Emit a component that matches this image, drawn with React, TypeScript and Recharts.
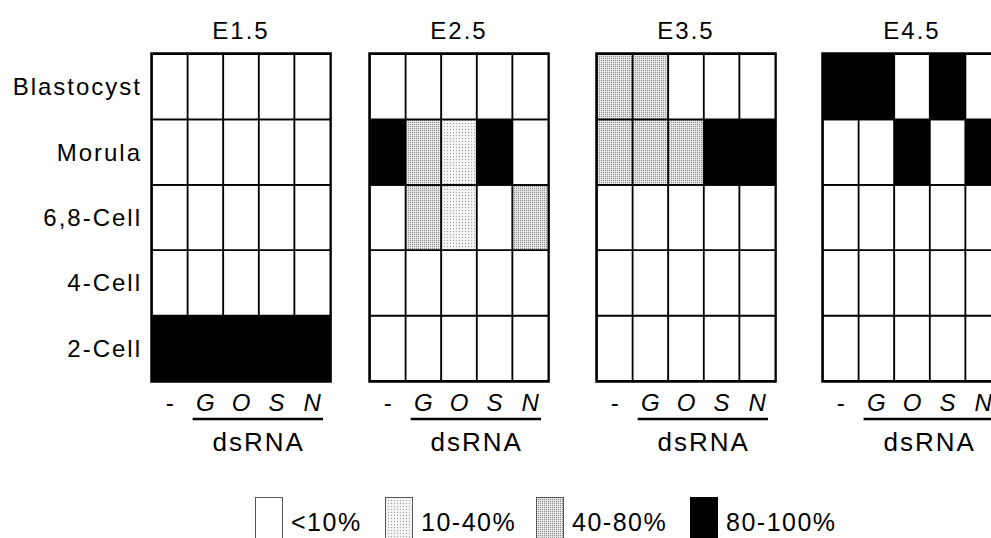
import React from "react";
import { BarChart, Bar, XAxis, YAxis, Cell, ReferenceArea } from "recharts";

// embryo stage reached, per timepoint and dsRNA treatment
// level: 0 = <10%, 1 = 10-40%, 2 = 40-80%, 3 = 80-100%
const timepoints = ["E1.5", "E2.5", "E3.5", "E4.5"];
const treatments = ["-", "G", "O", "S", "N"];
const stages = ["2-Cell", "4-Cell", "6,8-Cell", "Morula", "Blastocyst"];

const e15 = {
  "2-Cell": [3, 3, 3, 3, 3],
  "4-Cell": [0, 0, 0, 0, 0],
  "6,8-Cell": [0, 0, 0, 0, 0],
  Morula: [0, 0, 0, 0, 0],
  Blastocyst: [0, 0, 0, 0, 0],
};
const e25 = {
  "2-Cell": [0, 0, 0, 0, 0],
  "4-Cell": [0, 0, 0, 0, 0],
  "6,8-Cell": [0, 2, 1, 0, 2],
  Morula: [3, 2, 1, 3, 0],
  Blastocyst: [0, 0, 0, 0, 0],
};
const e35 = {
  "2-Cell": [0, 0, 0, 0, 0],
  "4-Cell": [0, 0, 0, 0, 0],
  "6,8-Cell": [0, 0, 0, 0, 0],
  Morula: [2, 2, 2, 3, 3],
  Blastocyst: [2, 2, 0, 0, 0],
};
const e45 = {
  "2-Cell": [0, 0, 0, 0, 0],
  "4-Cell": [0, 0, 0, 0, 0],
  "6,8-Cell": [0, 0, 0, 0, 0],
  Morula: [0, 0, 3, 0, 3],
  Blastocyst: [3, 3, 0, 3, 0],
};
const levelsByPanel: Record<string, number>[] = [e15, e25, e35, e45] as any;
const legendLabels = ["<10%", "10-40%", "40-80%", "80-100%"];

const FONT = '"Liberation Sans", Arial, Helvetica, sans-serif';
const FILLS = ["#ffffff", "url(#stippleLight)", "url(#stippleDark)", "#000000"];

const PANEL_LEFT = [152, 370, 597, 823];
const PANEL_TOP = 54;
const PANEL_W = 178;
const PANEL_H = 327;
const AXIS_W = 152;

// each cell is one unit high; the stack of five makes the column
const tableData = treatments.map((t) => {
  const row: any = { t };
  stages.forEach((s) => (row[s] = 1));
  return row;
});

const TreatmentTick = (props: any) => {
  const { x, y, payload } = props;
  const isDash = payload.value === "-";
  return (
    <text
      x={x}
      y={y + 30}
      textAnchor="middle"
      fontFamily={FONT}
      fontSize={24}
      fontStyle={isDash ? "normal" : "italic"}
      fill="#000"
    >
      {payload.value}
    </text>
  );
};

const DsRnaLabel = (props: any) => {
  const { viewBox } = props;
  if (!viewBox) return null;
  const { x, y, width } = viewBox;
  const colW = width / treatments.length;
  const x1 = x + colW + 5;
  const x2 = x + width - 7;
  return (
    <g>
      <line x1={x1} x2={x2} y1={y + 38} y2={y + 38} stroke="#000" strokeWidth={2.5} />
      <text
        x={x + colW + (width - colW) / 2}
        y={y + 70}
        textAnchor="middle"
        fontFamily={FONT}
        fontSize={26}
        letterSpacing={2}
        fill="#000"
      >
        dsRNA
      </text>
    </g>
  );
};

function Panel({ index }: { index: number }) {
  const levels = levelsByPanel[index];
  const first = index === 0;
  const ml = first ? AXIS_W : 4;
  const width = ml + PANEL_W + 6;
  const height = PANEL_TOP + PANEL_H + 95;
  return (
    <div style={{ position: "absolute", left: PANEL_LEFT[index] - ml, top: 0 }}>
      <div
        style={{
          position: "absolute",
          left: ml,
          width: PANEL_W,
          top: 16,
          textAlign: "center",
          fontFamily: FONT,
          fontSize: 24,
          letterSpacing: 2,
          lineHeight: "30px",
          color: "#000",
        }}
      >
        {timepoints[index]}
      </div>
      <BarChart
        width={width}
        height={height}
        data={tableData}
        margin={{ top: PANEL_TOP, right: 6, bottom: 0, left: first ? 0 : 4 }}
        barCategoryGap={0}
        barGap={0}
      >
        <XAxis
          dataKey="t"
          type="category"
          axisLine={false}
          tickLine={false}
          tickSize={0}
          tickMargin={0}
          height={95}
          interval={0}
          tick={<TreatmentTick />}
          label={<DsRnaLabel />}
        />
        <YAxis
          type="number"
          domain={[0, 5]}
          ticks={[0.5, 1.5, 2.5, 3.5, 4.5]}
          tickFormatter={(v: number) => stages[Math.floor(v)]}
          width={AXIS_W}
          hide={!first}
          axisLine={false}
          tickLine={false}
          tickSize={0}
          tickMargin={10}
          tick={{ fontFamily: FONT, fontSize: 24, letterSpacing: 2, fill: "#000" }}
        />
        {stages.map((s) => (
          <Bar
            key={s}
            dataKey={s}
            stackId="a"
            isAnimationActive={false}
            stroke="#000"
            strokeWidth={1.8}
          >
            {treatments.map((t, i) => (
              <Cell key={t} fill={FILLS[levels[s][i]]} />
            ))}
          </Bar>
        ))}
        <ReferenceArea
          x1="-"
          x2="N"
          y1={0}
          y2={5}
          fill="none"
          fillOpacity={0}
          stroke="#000"
          strokeWidth={3.5}
          ifOverflow="visible"
        />
      </BarChart>
    </div>
  );
}

function LegendRow() {
  const boxLeft = [255, 385, 536, 690];
  return (
    <>
      {legendLabels.map((label, i) => (
        <div
          key={label}
          style={{
            position: "absolute",
            left: boxLeft[i],
            top: 497,
            display: "flex",
            alignItems: "flex-start",
          }}
        >
          <svg width={28} height={42} style={{ display: "block" }}>
            <rect
              x={0.5}
              y={0.5}
              width={27}
              height={41}
              fill={FILLS[i]}
              stroke={i === 3 ? "#000" : "#555"}
              strokeWidth={1}
            />
          </svg>
          <span
            style={{
              marginLeft: 8,
              fontFamily: FONT,
              fontSize: 25,
              letterSpacing: 1.5,
              lineHeight: "50px",
              color: "#000",
              whiteSpace: "nowrap",
            }}
          >
            {label}
          </span>
        </div>
      ))}
    </>
  );
}

export default function App() {
  return (
    <div
      style={{
        position: "absolute",
        left: 0,
        top: 0,
        width: 991,
        height: 538,
        overflow: "hidden",
        background: "#fff",
      }}
    >
      <svg width={0} height={0} style={{ position: "absolute" }}>
        <defs>
          <pattern id="stippleDark" width={2} height={2} patternUnits="userSpaceOnUse">
            <rect width={2} height={2} fill="#e4e4e4" />
            <rect width={1} height={1} fill="#8a8a8a" />
          </pattern>
          <pattern id="stippleLight" width={3} height={3} patternUnits="userSpaceOnUse">
            <rect width={3} height={3} fill="#f3f3f3" />
            <rect width={1} height={1} fill="#a0a0a0" />
          </pattern>
        </defs>
      </svg>
      {timepoints.map((tp, i) => (
        <Panel key={tp} index={i} />
      ))}
      <LegendRow />
    </div>
  );
}
